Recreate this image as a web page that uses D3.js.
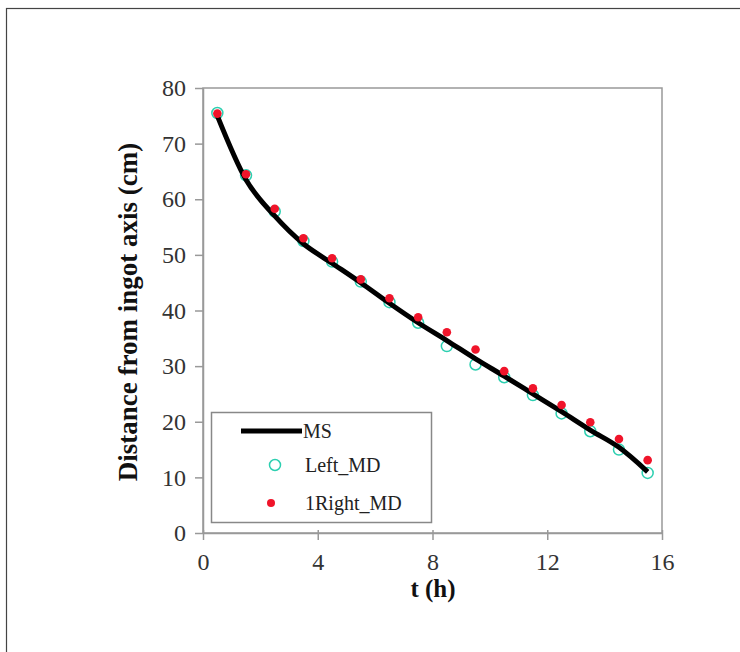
<!DOCTYPE html>
<html><head><meta charset="utf-8">
<script src="https://cdn.jsdelivr.net/npm/d3@7"></script>
<style>body{margin:0;background:#fff}svg{display:block}</style>
</head><body>
<svg id="c" width="740" height="652"></svg>
<script>
const times = [0.5,1.5,2.5,3.5,4.5,5.5,6.5,7.5,8.5,9.5,10.5,11.5,12.5,13.5,14.5,15.5];
const msValues = [75,63.5,57,52,48.5,45,41.3,37.8,34.6,31.3,28.2,25,21.8,18.5,15.4,11];
const leftMD = [75.5,64.3,57.8,52.5,48.8,45.2,41.5,37.8,33.6,30.3,28,24.8,21.5,18.3,15,10.8];
const rightMD = [75.4,64.5,58.3,53,49.4,45.6,42.2,38.8,36.1,33,29.1,26,23,19.9,16.9,13.1];
const xTicks = [0,4,8,12,16];
const yTicks = [0,10,20,30,40,50,60,70,80];
const seriesNames = ["MS","Left_MD","1Right_MD"];

const svg = d3.select("#c");
const font = "'Liberation Serif','Times New Roman',serif";
svg.append("rect").attr("x",6.5).attr("y",8.5).attr("width",760).attr("height",700)
  .attr("fill","none").attr("stroke","#444").attr("stroke-width",1.2);

const L=203,R=662,T=88,B=533;
const x = d3.scaleLinear().domain([0,16]).range([L,R]);
const y = d3.scaleLinear().domain([0,80]).range([B,T]);
const g = svg.append("g");

g.append("rect").attr("x",L).attr("y",T).attr("width",R-L).attr("height",B-T)
  .attr("fill","none").attr("stroke","#999").attr("stroke-width",1.5);

const xa = g.append("g").attr("transform",`translate(0,${B})`)
  .call(d3.axisBottom(x).tickValues(xTicks).tickSize(7).tickSizeOuter(0).tickPadding(13));
const ya = g.append("g").attr("transform",`translate(${L},0)`)
  .call(d3.axisLeft(y).tickValues(yTicks).tickSize(8).tickSizeOuter(0).tickPadding(9));
[xa,ya].forEach(a=>{
  a.select(".domain").attr("stroke","#999").attr("stroke-width",1.5);
  a.selectAll(".tick line").attr("stroke","#999").attr("stroke-width",1.5);
  a.selectAll(".tick text").attr("font-family",font).attr("font-size",24).attr("fill","#333");
});
xa.selectAll(".tick line").attr("y1",-3);

svg.append("text").attr("x",433).attr("y",597).attr("text-anchor","middle")
  .attr("font-family",font).attr("font-size",25).attr("font-weight","bold").attr("fill","#111").text("t (h)");
svg.append("text").attr("transform","translate(137,312) rotate(-90)").attr("text-anchor","middle")
  .attr("font-family",font).attr("font-size",27).attr("font-weight","bold").attr("fill","#111")
  .text("Distance from ingot axis (cm)");

const pts = (vals)=>times.map((t,i)=>[t,vals[i]]);
g.selectAll(".lm").data(pts(leftMD)).join("circle")
  .attr("cx",d=>x(d[0])).attr("cy",d=>y(d[1])).attr("r",5.5)
  .attr("fill","none").attr("stroke","#2ccfb0").attr("stroke-width",1.5);
g.append("path").datum(pts(msValues))
  .attr("d",d3.line().curve(d3.curveMonotoneX).x(d=>x(d[0])).y(d=>y(d[1])))
  .attr("fill","none").attr("stroke","#000").attr("stroke-width",5).attr("stroke-linejoin","round");
g.selectAll(".rm").data(pts(rightMD)).join("circle")
  .attr("cx",d=>x(d[0])).attr("cy",d=>y(d[1])).attr("r",4.3)
  .attr("fill","#f0142a");

// legend
const lg = svg.append("g");
lg.append("rect").attr("x",211.5).attr("y",412.5).attr("width",220).attr("height",110)
  .attr("fill","#fff").attr("stroke","#888").attr("stroke-width",1.5);
lg.append("line").attr("x1",241).attr("x2",302).attr("y1",431).attr("y2",431)
  .attr("stroke","#000").attr("stroke-width",5);
lg.append("circle").attr("cx",275).attr("cy",465).attr("r",5.5)
  .attr("fill","none").attr("stroke","#2ccfb0").attr("stroke-width",1.5);
lg.append("circle").attr("cx",271).attr("cy",503).attr("r",4).attr("fill","#f0142a");
const ly=[431,465,503], lx=[303,305,305];
seriesNames.forEach((n,i)=>{
  lg.append("text").attr("x",lx[i]).attr("y",ly[i]+7).attr("font-family",font)
    .attr("font-size",20).attr("fill","#222").text(n);
});
</script>
</body></html>
